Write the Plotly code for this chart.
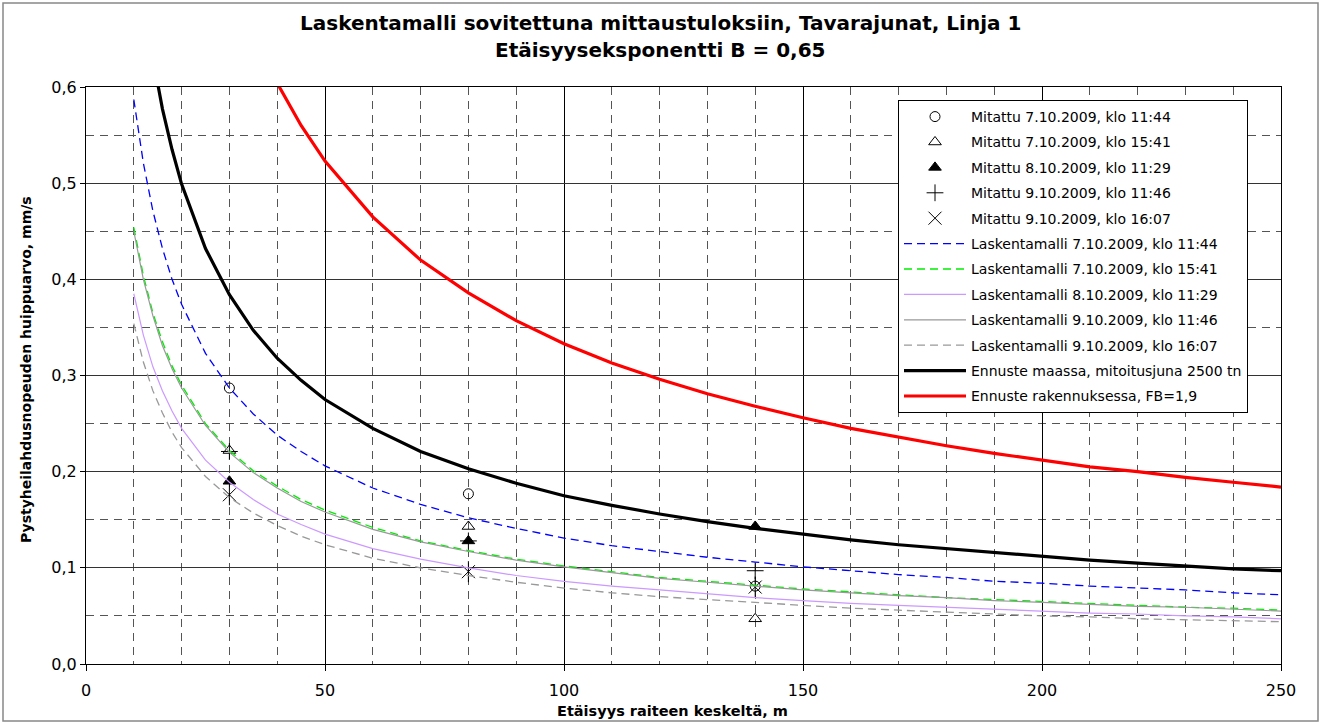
import plotly.graph_objects as go

# ---------------- data ----------------
x_meas = [30, 80, 140]
meas_0710_1144 = [0.287, 0.177, 0.081]
meas_0710_1541 = [0.222, 0.143, 0.047]
meas_0810_1129 = [0.190, 0.128, 0.143]
meas_0910_1146 = [0.221, 0.128, 0.097]
meas_0910_1607 = [0.176, 0.096, 0.080]

x_model = [10, 12, 14, 16, 18, 20, 25, 30, 35, 40, 45, 50, 60, 70, 80, 90, 100,
           110, 120, 130, 140, 150, 160, 170, 180, 190, 200, 210, 220, 230, 240, 250]
model_0710_1144 = [0.587, 0.521, 0.471, 0.432, 0.400, 0.374, 0.323, 0.287, 0.260, 0.238, 0.221, 0.206,
                   0.183, 0.166, 0.152, 0.141, 0.131, 0.123, 0.117, 0.111, 0.106, 0.101, 0.097, 0.093,
                   0.090, 0.086, 0.084, 0.081, 0.079, 0.077, 0.074, 0.072]
model_0710_1541 = [0.454, 0.404, 0.365, 0.335, 0.310, 0.290, 0.250, 0.222, 0.201, 0.185, 0.171, 0.160,
                   0.142, 0.128, 0.118, 0.109, 0.102, 0.096, 0.090, 0.086, 0.082, 0.078, 0.075, 0.072,
                   0.069, 0.067, 0.065, 0.063, 0.061, 0.059, 0.058, 0.056]
model_0810_1129 = [0.385, 0.342, 0.309, 0.284, 0.263, 0.245, 0.212, 0.189, 0.171, 0.156, 0.145, 0.135,
                   0.120, 0.109, 0.100, 0.092, 0.086, 0.081, 0.077, 0.073, 0.069, 0.066, 0.063, 0.061,
                   0.059, 0.057, 0.055, 0.053, 0.052, 0.050, 0.049, 0.047]
model_0910_1146 = [0.450, 0.400, 0.362, 0.331, 0.307, 0.287, 0.248, 0.220, 0.199, 0.183, 0.169, 0.158,
                   0.140, 0.127, 0.117, 0.108, 0.101, 0.095, 0.089, 0.085, 0.081, 0.077, 0.074, 0.071,
                   0.069, 0.066, 0.064, 0.062, 0.060, 0.059, 0.057, 0.055]
model_0910_1607 = [0.354, 0.314, 0.284, 0.261, 0.241, 0.225, 0.195, 0.173, 0.157, 0.144, 0.133, 0.124,
                   0.110, 0.100, 0.092, 0.085, 0.079, 0.074, 0.070, 0.067, 0.064, 0.061, 0.058, 0.056,
                   0.054, 0.052, 0.050, 0.049, 0.047, 0.046, 0.045, 0.044]
forecast_ground = [0.783, 0.696, 0.630, 0.577, 0.535, 0.499, 0.432, 0.384, 0.347, 0.318, 0.295, 0.275,
                   0.245, 0.221, 0.203, 0.188, 0.175, 0.165, 0.156, 0.148, 0.141, 0.135, 0.129, 0.124,
                   0.120, 0.116, 0.112, 0.108, 0.105, 0.102, 0.099, 0.097]
forecast_building = [1.489, 1.323, 1.196, 1.097, 1.016, 0.949, 0.821, 0.729, 0.660, 0.604, 0.560, 0.523,
                     0.465, 0.420, 0.386, 0.357, 0.333, 0.313, 0.296, 0.281, 0.268, 0.256, 0.245, 0.236,
                     0.227, 0.219, 0.212, 0.205, 0.200, 0.194, 0.189, 0.184]

y_ticks = [0.0, 0.1, 0.2, 0.3, 0.4, 0.5, 0.6]
x_ticks = [0, 50, 100, 150, 200, 250]

title_1 = "Laskentamalli sovitettuna mittaustuloksiin, Tavarajunat, Linja 1"
title_2 = "Etäisyyseksponentti B = 0,65"
x_title = "Etäisyys raiteen keskeltä, m"
y_title = "Pystyheilahdusnopeuden huippuarvo, mm/s"

FONT = "DejaVu Sans, Arial, sans-serif"

# ---------------- figure ----------------
fig = go.Figure()

def meas(name, y, symbol, size, group, show=True, width=1):
    fig.add_trace(go.Scatter(
        x=x_meas, y=y, mode="markers", name=name, legendgroup=group, showlegend=show,
        marker=dict(symbol=symbol, size=size, color="black",
                    line=dict(color="black", width=width))))

meas("Mitattu 7.10.2009, klo 11:44", meas_0710_1144, "circle-open", 10, "g1")
meas("Mitattu 7.10.2009, klo 15:41", meas_0710_1541, "triangle-up-open", 11, "g2")
meas("Mitattu 8.10.2009, klo 11:29", meas_0810_1129, "triangle-up", 11, "g3")
meas("Mitattu 9.10.2009, klo 11:46", meas_0910_1146, "cross-thin-open", 12, "g4")
meas("Mitattu 9.10.2009, klo 16:07", meas_0910_1607, "x-thin-open", 13, "g5")
meas("Mitattu 9.10.2009, klo 16:07", meas_0910_1607, "line-ns-open", 15, "g5", show=False)

def model(name, y, color, width, dash, group):
    fig.add_trace(go.Scatter(
        x=x_model, y=y, mode="lines", name=name, legendgroup=group,
        line=dict(color=color, width=width, dash=dash)))

model("Laskentamalli 7.10.2009, klo 11:44", model_0710_1144, "#0000ff", 1.3, "8px,5px", "g6")
model("Laskentamalli 7.10.2009, klo 15:41", model_0710_1541, "#00ee00", 1.3, "8px,5px", "g7")
model("Laskentamalli 8.10.2009, klo 11:29", model_0810_1129, "#cc99ff", 1.2, "solid", "g8")
model("Laskentamalli 9.10.2009, klo 11:46", model_0910_1146, "#999999", 1.2, "solid", "g9")
model("Laskentamalli 9.10.2009, klo 16:07", model_0910_1607, "#999999", 1.3, "8px,5px", "g10")
model("Ennuste maassa, mitoitusjuna 2500 tn", forecast_ground, "#000000", 3.2, "solid", "g11")
model("Ennuste rakennuksessa, FB=1,9", forecast_building, "#ff0000", 3.2, "solid", "g12")

fig.update_layout(
    width=1322, height=724,
    margin=dict(l=86, r=41, t=87, b=60),
    paper_bgcolor="white", plot_bgcolor="white",
    separators=", ",
    font=dict(family=FONT, size=16, color="black"),
    showlegend=True,
    legend=dict(
        x=0.6795, y=0.9775, xanchor="left", yanchor="top",
        bgcolor="white", bordercolor="black", borderwidth=1,
        font=dict(size=14, color="black", family=FONT),
        traceorder="grouped", tracegroupgap=4.2, itemwidth=62,
    ),
    xaxis=dict(
        range=[0, 250], tickvals=x_ticks, ticks="outside", ticklen=6, tickcolor="black",
        showline=True, linecolor="black", linewidth=1, mirror=True,
        showgrid=True, gridcolor="#000000", gridwidth=1, zeroline=False,
        minor=dict(dtick=10, showgrid=True, gridcolor="#555555", griddash="8px,6px", gridwidth=1),
        tickfont=dict(size=16), ticklabelstandoff=6,
    ),
    yaxis=dict(
        range=[0, 0.6], tickvals=y_ticks, tickformat=".1f", ticks="outside", ticklen=5,
        tickcolor="black",
        showline=True, linecolor="black", linewidth=1, mirror=True,
        showgrid=True, gridcolor="#333333", gridwidth=1, zeroline=False,
        minor=dict(dtick=0.05, showgrid=True, gridcolor="#555555", griddash="8px,6px", gridwidth=1),
        tickfont=dict(size=16),
    ),
    annotations=[
        dict(text="<b>" + title_1 + "</b>", x=660, y=23, xanchor="center", yanchor="middle",
             showarrow=False, font=dict(size=20)),
        dict(text="<b>" + title_2 + "</b>", x=660, y=50, xanchor="center", yanchor="middle",
             showarrow=False, font=dict(size=20)),
        dict(text="<b>" + x_title + "</b>", x=672, y=711, xanchor="center", yanchor="middle",
             showarrow=False, font=dict(size=14.5)),
        dict(text="<b>" + y_title + "</b>", x=26, y=370, xanchor="center", yanchor="middle",
             showarrow=False, textangle=-90, font=dict(size=14)),
    ],
)

# convert pixel positions of annotations to paper coordinates
L, R, T, B = 86, 1322 - 41, 87, 724 - 60
for a in fig.layout.annotations:
    px, py = a.x, a.y
    a.xref = "paper"
    a.yref = "paper"
    a.x = (px - L) / (R - L)
    a.y = (B - py) / (B - T)

# outer chart border
fig.add_shape(type="rect", xref="paper", yref="paper",
              x0=(3 - L) / (R - L), x1=(1318 - L) / (R - L),
              y0=(B - 721) / (B - T), y1=(B - 3) / (B - T),
              line=dict(color="#888888", width=1.5), layer="below")

fig.write_html("out.html")
